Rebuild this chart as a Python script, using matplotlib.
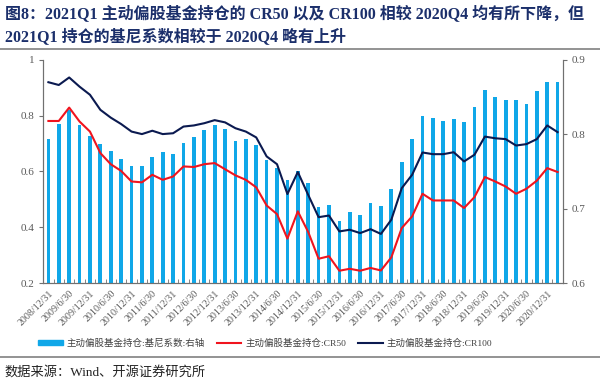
import numpy as np
import pandas as pd
import matplotlib
matplotlib.use("Agg")
import matplotlib.pyplot as plt
from matplotlib.patches import Patch
from matplotlib.lines import Line2D

plt.rcParams['font.family'] = ['Liberation Serif', 'Noto Sans CJK SC', 'DejaVu Sans']

# quarterly dates 2008Q4 .. 2021Q1
dates = pd.date_range('2008-12-31', periods=50, freq='QE')
date_labels = [f"{d.year}/{d.month}/{d.day}" for d in dates]

# 基尼系数 (right axis)
gini = [0.794, 0.814, 0.832, 0.813, 0.798, 0.787, 0.778, 0.767, 0.758, 0.758,
        0.769, 0.776, 0.774, 0.788, 0.796, 0.806, 0.812, 0.807, 0.791, 0.794,
        0.786, 0.766, 0.755, 0.738, 0.750, 0.734, 0.702, 0.705, 0.684, 0.695,
        0.691, 0.707, 0.703, 0.726, 0.763, 0.793, 0.824, 0.822, 0.818, 0.820,
        0.817, 0.837, 0.860, 0.850, 0.846, 0.846, 0.841, 0.858, 0.870, 0.870]

# CR50
cr50 = [0.781, 0.781, 0.829, 0.779, 0.743, 0.666, 0.626, 0.602, 0.564, 0.561,
        0.588, 0.570, 0.582, 0.618, 0.616, 0.626, 0.630, 0.608, 0.586, 0.570,
        0.543, 0.478, 0.447, 0.359, 0.457, 0.383, 0.287, 0.296, 0.244, 0.251,
        0.244, 0.254, 0.245, 0.292, 0.397, 0.439, 0.520, 0.496, 0.496, 0.496,
        0.469, 0.508, 0.580, 0.564, 0.546, 0.520, 0.538, 0.567, 0.612, 0.598]

# CR100
cr100 = [0.920, 0.910, 0.937, 0.904, 0.875, 0.821, 0.793, 0.770, 0.743, 0.734,
         0.746, 0.734, 0.737, 0.761, 0.765, 0.773, 0.784, 0.776, 0.755, 0.743,
         0.722, 0.654, 0.626, 0.519, 0.598, 0.516, 0.436, 0.442, 0.385, 0.391,
         0.379, 0.393, 0.376, 0.427, 0.540, 0.588, 0.668, 0.662, 0.662, 0.669,
         0.636, 0.660, 0.725, 0.719, 0.716, 0.693, 0.698, 0.716, 0.765, 0.741]

names = ['主动偏股基金持仓:基尼系数:右轴', '主动偏股基金持仓:CR50', '主动偏股基金持仓:CR100']

blue = '#10A7E8'
red = '#F0141E'
navy = '#0B1A50'
grey = '#595959'

fig = plt.figure(figsize=(6, 3.84), dpi=100)
ax = fig.add_axes([0.072, 0.263, 0.866, 0.581])
ax2 = ax.twinx()

x = np.arange(len(dates))
ax2.bar(x, gini, width=0.36, color=blue)
ax.plot(x, cr50, color=red, lw=1.5)
ax.plot(x, cr100, color=navy, lw=1.5)

ax.set_zorder(ax2.get_zorder() + 1)
ax.patch.set_visible(False)

ax.set_xlim(-0.5, len(dates) - 0.5)
ax.set_ylim(0.2, 1.0)
ax2.set_ylim(0.6, 0.9)
ax.set_yticks([0.2, 0.4, 0.6, 0.8, 1.0])
ax.set_yticklabels(['0.2', '0.4', '0.6', '0.8', '1'])
ax2.set_yticks([0.6, 0.7, 0.8, 0.9])
ax2.set_yticklabels(['0.6', '0.7', '0.8', '0.9'])

ax.set_xticks(x[::2])
ax.set_xticklabels(date_labels[::2], rotation=45, ha='right', rotation_mode='anchor',
                   fontsize=7.2, color=grey)
ax.set_xticks(np.arange(-0.5, len(dates), 1), minor=True)
ax.tick_params(axis='x', which='major', length=0, pad=4)
ax.tick_params(axis='x', which='minor', length=3, direction='in', color='#707070')
ax.tick_params(axis='y', labelsize=8, labelcolor=grey, length=3, color='#707070')
ax2.tick_params(axis='y', labelsize=8, labelcolor=grey, length=3, color='#707070')

for a in (ax, ax2):
    a.spines['top'].set_visible(False)
    for s in ('left', 'right', 'bottom'):
        a.spines[s].set_color('#707070')

# title
title_color = '#1B2F6B'
fig.text(0.008, 0.963, '图8：2021Q1 主动偏股基金持仓的 CR50 以及 CR100 相较 2020Q4 均有所下降，但',
         fontsize=11.5, fontweight='bold', color=title_color, va='center', ha='left')
fig.text(0.008, 0.901, '2021Q1 持仓的基尼系数相较于 2020Q4 略有上升',
         fontsize=11.5, fontweight='bold', color=title_color, va='center', ha='left')
fig.add_artist(Line2D([0, 1], [0.872, 0.872], color='#808080', lw=1.2))

handles = [Patch(color=blue), Line2D([], [], color=red, lw=1.5), Line2D([], [], color=navy, lw=1.5)]
leg = fig.legend(handles, names, loc='center', bbox_to_anchor=(0.442, 0.107), ncol=3,
                 frameon=False, fontsize=6.8, handlelength=2.6, handleheight=0.5,
                 columnspacing=1.3, handletextpad=0.4)
for t in leg.get_texts():
    t.set_color('#404040')

fig.add_artist(Line2D([0, 1], [0.07, 0.07], color='#808080', lw=1.2))
fig.text(0.008, 0.031, '数据来源：Wind、开源证券研究所', fontsize=9.5, color='#222222',
         va='center', ha='left')

fig.savefig('out.png', dpi=100)
